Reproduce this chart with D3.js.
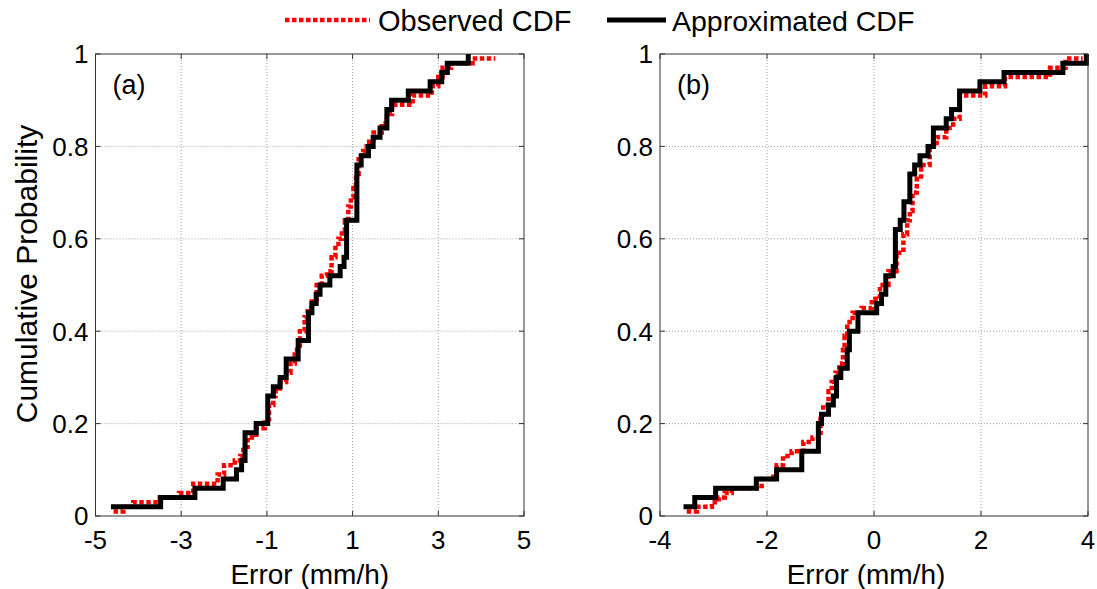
<!DOCTYPE html>
<html>
<head>
<meta charset="utf-8">
<script src="https://cdn.jsdelivr.net/npm/d3@7"></script>
<style>
  body { margin: 0; background: #fff; }
  text { font-family: "Liberation Sans", Arial, sans-serif; fill: #000; }
</style>
</head>
<body>
<div id="wrapper"></div>
<script>
// panel (a): observed CDF steps
const obsA_x = [-4.58,-4.35,-4.12,-3.50,-3.05,-2.72,-2.15,-2.00,-1.75,-1.62,-1.55,-1.45,-1.25,-1.05,-0.95,-0.85,-0.80,-0.70,-0.55,-0.45,-0.35,-0.23,-0.12,-0.05,0.05,0.16,0.28,0.40,0.51,0.60,0.67,0.75,0.82,0.90,0.96,1.02,1.08,1.14,1.25,1.33,1.49,1.68,1.80,1.92,2.40,2.85,3.00,3.10,3.30,3.80,4.33];
const obsA_p = [0.01,0.02,0.03,0.04,0.05,0.07,0.09,0.11,0.12,0.13,0.15,0.17,0.19,0.21,0.24,0.26,0.27,0.29,0.31,0.33,0.36,0.40,0.43,0.45,0.47,0.50,0.52,0.53,0.56,0.58,0.60,0.62,0.64,0.67,0.69,0.71,0.74,0.78,0.79,0.81,0.83,0.85,0.87,0.89,0.91,0.93,0.95,0.97,0.98,0.99,0.99];
// panel (a): approximated CDF steps
const appA_x = [-4.64,-3.48,-2.68,-2.02,-1.71,-1.59,-1.51,-1.25,-0.98,-0.85,-0.69,-0.55,-0.27,-0.03,0.05,0.15,0.24,0.47,0.71,0.80,0.86,1.10,1.20,1.37,1.48,1.64,1.80,1.91,2.30,2.81,3.08,3.21,3.70];
const appA_p = [0.02,0.04,0.06,0.08,0.10,0.12,0.18,0.20,0.26,0.28,0.30,0.34,0.38,0.44,0.46,0.48,0.50,0.52,0.54,0.56,0.64,0.76,0.78,0.80,0.82,0.84,0.88,0.90,0.92,0.94,0.96,0.98,1.00];

// panel (b)
const obsB_x = [-3.50,-3.31,-3.03,-2.90,-2.79,-2.66,-2.10,-1.88,-1.82,-1.70,-1.54,-1.32,-1.15,-1.04,-1.00,-0.95,-0.85,-0.79,-0.72,-0.65,-0.58,-0.55,-0.50,-0.40,-0.23,-0.04,0.11,0.27,0.42,0.55,0.62,0.67,0.72,0.80,0.88,1.04,1.17,1.35,1.48,1.60,2.08,2.45,3.29,3.58,3.90];
const obsB_p = [0.01,0.02,0.03,0.04,0.05,0.06,0.08,0.09,0.11,0.13,0.14,0.16,0.17,0.18,0.21,0.24,0.27,0.29,0.31,0.33,0.36,0.39,0.42,0.44,0.45,0.47,0.50,0.53,0.57,0.61,0.64,0.66,0.70,0.73,0.76,0.80,0.82,0.84,0.86,0.91,0.93,0.95,0.97,0.99,0.99];
const appB_x = [-3.56,-3.35,-2.96,-2.20,-1.82,-1.35,-1.04,-0.98,-0.85,-0.76,-0.70,-0.62,-0.50,-0.46,-0.30,0.05,0.14,0.22,0.36,0.40,0.49,0.56,0.67,0.76,0.86,1.01,1.11,1.35,1.45,1.60,1.98,2.43,3.53,3.97];
const appB_p = [0.02,0.04,0.06,0.08,0.10,0.14,0.20,0.22,0.24,0.26,0.30,0.32,0.36,0.40,0.44,0.46,0.48,0.52,0.54,0.62,0.64,0.68,0.74,0.76,0.78,0.80,0.84,0.86,0.88,0.92,0.94,0.96,0.98,1.00];

const xTicksA = [-5,-3,-1,1,3,5];
const xTicksB = [-4,-2,0,2,4];
const yTicks = [0,0.2,0.4,0.6,0.8,1];
const legendLabels = ["Observed CDF","Approximated CDF"];

const width = 1097, height = 589;
const svg = d3.select("#wrapper").append("svg")
  .attr("width", width).attr("height", height);

const plotTop = 54, plotBottom = 516;
const panels = [
  { label: "(a)", left: 95.5, right: 524, domain: [-5,5], ticks: xTicksA,
    obs: obsA_x.map((x,i) => [x, obsA_p[i]]), app: appA_x.map((x,i) => [x, appA_p[i]]), xlabShift: 0 },
  { label: "(b)", left: 660, right: 1088, domain: [-4,4], ticks: xTicksB,
    obs: obsB_x.map((x,i) => [x, obsB_p[i]]), app: appB_x.map((x,i) => [x, appB_p[i]]), xlabShift: -8 }
];

panels.forEach((p) => {
  const x = d3.scaleLinear().domain(p.domain).range([p.left, p.right]);
  const y = d3.scaleLinear().domain([0,1]).range([plotBottom, plotTop]);
  const g = svg.append("g");

  // grid
  g.selectAll(".vgrid").data(p.ticks.slice(1,-1)).join("line")
    .attr("x1", d => x(d)).attr("x2", d => x(d)).attr("y1", plotTop).attr("y2", plotBottom)
    .attr("stroke", "#a0a0a0").attr("stroke-width", 1).attr("stroke-dasharray", "1,2");
  g.selectAll(".hgrid").data(yTicks.slice(1,-1)).join("line")
    .attr("y1", d => y(d)).attr("y2", d => y(d)).attr("x1", p.left).attr("x2", p.right)
    .attr("stroke", "#a0a0a0").attr("stroke-width", 1).attr("stroke-dasharray", "1,2");

  // inner ticks on all four sides
  const tk = 5;
  const tg = g.append("g").attr("stroke", "#333").attr("stroke-width", 1);
  p.ticks.forEach(t => {
    tg.append("line").attr("x1", x(t)).attr("x2", x(t)).attr("y1", plotBottom).attr("y2", plotBottom - tk);
    tg.append("line").attr("x1", x(t)).attr("x2", x(t)).attr("y1", plotTop).attr("y2", plotTop + tk);
  });
  yTicks.forEach(t => {
    tg.append("line").attr("y1", y(t)).attr("y2", y(t)).attr("x1", p.left).attr("x2", p.left + tk);
    tg.append("line").attr("y1", y(t)).attr("y2", y(t)).attr("x1", p.right).attr("x2", p.right - tk);
  });

  // lines
  const line = d3.line().x(d => x(d[0])).y(d => y(d[1])).curve(d3.curveStepAfter);
  g.append("path").datum(p.obs).attr("d", line)
    .attr("fill", "none").attr("stroke", "#ff0000").attr("stroke-width", 4.5)
    .attr("stroke-dasharray", "4.5,2.5");
  g.append("path").datum(p.app).attr("d", line)
    .attr("fill", "none").attr("stroke", "#000").attr("stroke-width", 5)
    .attr("stroke-linejoin", "miter");

  // frame
  g.append("rect").attr("x", p.left).attr("y", plotTop)
    .attr("width", p.right - p.left).attr("height", plotBottom - plotTop)
    .attr("fill", "none").attr("stroke", "#333").attr("stroke-width", 1);

  // tick labels
  g.selectAll(".xl").data(p.ticks).join("text")
    .attr("x", d => x(d)).attr("y", 549).attr("text-anchor", "middle")
    .attr("font-size", 26).text(d => String(d));
  g.selectAll(".yl").data(yTicks).join("text")
    .attr("x", p.left - 7).attr("y", d => y(d)).attr("dy", "0.36em")
    .attr("text-anchor", "end").attr("font-size", 26).text(d => String(d));

  // axis label
  g.append("text").attr("x", (p.left + p.right) / 2 + p.xlabShift).attr("y", 584)
    .attr("text-anchor", "middle").attr("font-size", 28).text("Error (mm/h)");

  // panel label
  g.append("text").attr("x", p.left + 17).attr("y", 94)
    .attr("font-size", 27).text(p.label);
});

svg.append("text")
  .attr("transform", "translate(37,274) rotate(-90)")
  .attr("text-anchor", "middle").attr("font-size", 30)
  .text("Cumulative Probability");

// legend
const leg = svg.append("g");
leg.append("line").attr("x1", 285).attr("x2", 370).attr("y1", 20).attr("y2", 20)
  .attr("stroke", "#ff0000").attr("stroke-width", 4.5).attr("stroke-dasharray", "4.5,2.5");
leg.append("text").attr("x", 378).attr("y", 31).attr("font-size", 29).text(legendLabels[0]);
leg.append("line").attr("x1", 607).attr("x2", 666).attr("y1", 20).attr("y2", 20)
  .attr("stroke", "#000").attr("stroke-width", 5);
leg.append("text").attr("x", 672).attr("y", 31).attr("font-size", 28.5).text(legendLabels[1]);
</script>
</body>
</html>
